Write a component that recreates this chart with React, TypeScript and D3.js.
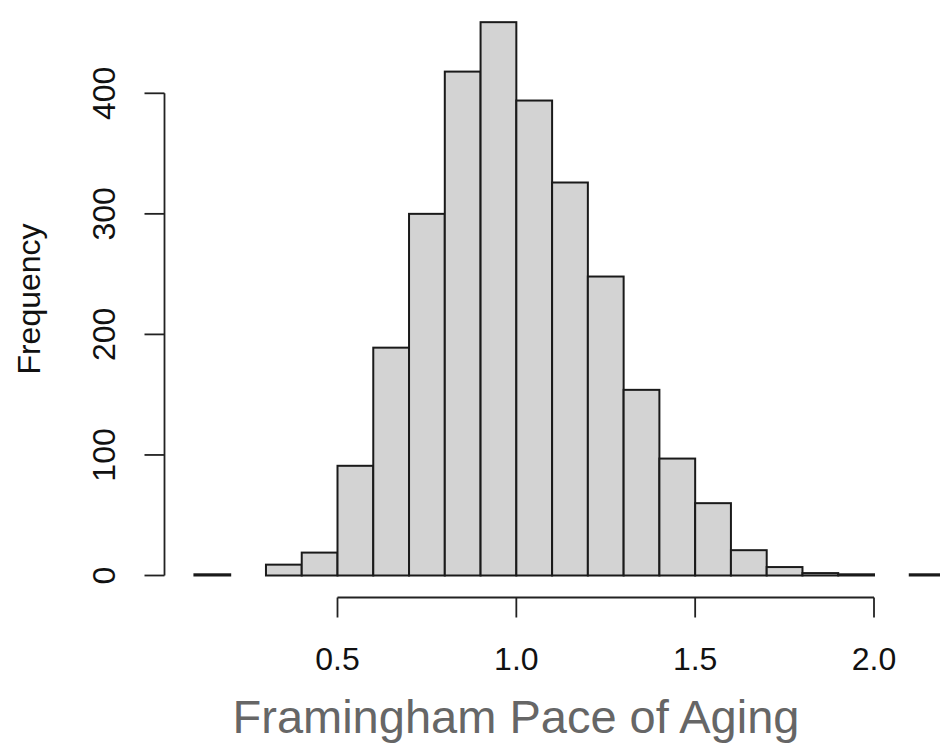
import React from "react";
import * as d3 from "d3";

const binStarts = [0.1, 0.2, 0.3, 0.4, 0.5, 0.6, 0.7, 0.8, 0.9, 1.0, 1.1, 1.2, 1.3, 1.4, 1.5, 1.6, 1.7, 1.8, 1.9, 2.0, 2.1];
const counts = [1, 0, 9, 19, 91, 189, 300, 418, 459, 394, 326, 248, 154, 97, 60, 21, 7, 2, 1, 0, 1];
const binWidth = 0.1;
const xTicks = [0.5, 1.0, 1.5, 2.0];
const yTicks = [0, 100, 200, 300, 400];
const xTitle = "Framingham Pace of Aging";
const yTitle = "Frequency";

export default function App() {
  const W = 940, H = 746;
  const x = d3.scaleLinear().domain([0.5, 2.0]).range([337.5, 874]);
  const y = d3.scaleLinear().domain([0, 400]).range([575.5, 93.3]);
  const font = "'Liberation Sans', Arial, Helvetica, sans-serif";
  const axisY = 597.5;
  const axisX = 164.5;
  const tick = 20;
  return (
    <svg width={W} height={H} style={{ position: "absolute", left: 0, top: 0, background: "#fff" }}>
      <rect x={0} y={0} width={W} height={H} fill="#fff" />
      <g>
        {binStarts.map((b, i) => (
          <rect
            key={i}
            x={x(b)}
            y={y(counts[i])}
            width={x(b + binWidth) - x(b)}
            height={y(0) - y(counts[i])}
            fill="#d3d3d3"
            stroke="#1a1a1a"
            strokeWidth={counts[i] === 0 ? 0.6 : 2}
          />
        ))}
      </g>
      {/* x axis */}
      <g stroke="#222" strokeWidth={1.8} fill="none">
        <line x1={x(xTicks[0])} x2={x(xTicks[xTicks.length - 1])} y1={axisY} y2={axisY} />
        {xTicks.map((t) => (
          <line key={t} x1={x(t)} x2={x(t)} y1={axisY} y2={axisY + tick} />
        ))}
      </g>
      {xTicks.map((t) => (
        <text key={t} x={x(t)} y={670} textAnchor="middle" fontFamily={font} fontSize={32} fill="#111">
          {d3.format(".1f")(t)}
        </text>
      ))}
      {/* y axis */}
      <g stroke="#222" strokeWidth={1.8} fill="none">
        <line x1={axisX} x2={axisX} y1={y(yTicks[0])} y2={y(yTicks[yTicks.length - 1])} />
        {yTicks.map((t) => (
          <line key={t} x1={axisX - tick} x2={axisX} y1={y(t)} y2={y(t)} />
        ))}
      </g>
      {yTicks.map((t) => (
        <text
          key={t}
          transform={`translate(115,${y(t)}) rotate(-90)`}
          textAnchor="middle"
          fontFamily={font}
          fontSize={32}
          fill="#111"
        >
          {t}
        </text>
      ))}
      <text
        transform={`translate(40,299) rotate(-90)`}
        textAnchor="middle"
        fontFamily={font}
        fontSize={32}
        fill="#111"
      >
        {yTitle}
      </text>
      <text x={516} y={733} textAnchor="middle" fontFamily={font} fontSize={47} fill="#666">
        {xTitle}
      </text>
    </svg>
  );
}
